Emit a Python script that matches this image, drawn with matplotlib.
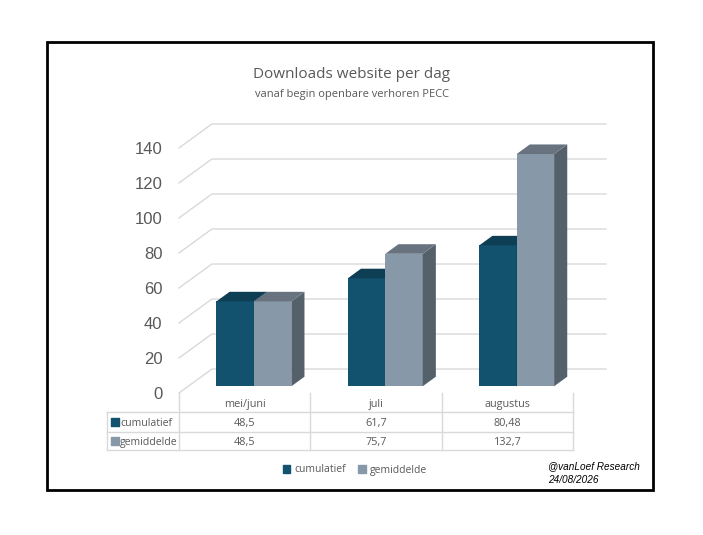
import matplotlib
matplotlib.use('Agg')
import matplotlib.pyplot as plt
from matplotlib.patches import Polygon, Rectangle, Patch
import numpy as np

# data
categories = ['mei/juni', 'juli', 'augustus']
series_names = ['cumulatief', 'gemiddelde']
cumulatief = [48.5, 61.7, 80.48]
gemiddelde = [48.5, 75.7, 132.7]
yticks = [0, 20, 40, 60, 80, 100, 120, 140]

W, H = 703, 535
plt.rcParams['font.family'] = ['Open Sans', 'DejaVu Sans']
GREY = '#595959'
GRID = '#D9D9D9'

fig = plt.figure(figsize=(W / 100, H / 100), dpi=100)


def px(x0, y0, x1, y1):
    return [x0 / W, 1 - y1 / H, (x1 - x0) / W, (y1 - y0) / H]


# depth of the back wall in data units
DX, DY = 0.25, 13.7
ax = fig.add_axes(px(179, 124, 606, 393))
ax.set_xlim(-0.5, 2.5 + DX)
ax.set_ylim(0, 140 + DY)
ax.patch.set_alpha(0)
for s in ax.spines.values():
    s.set_visible(False)
ax.set_xticks([])
ax.set_yticks(yticks)
ax.tick_params(axis='y', length=0, pad=12, labelsize=12, labelcolor=GREY)
for lab in ax.get_yticklabels():
    lab.set_fontfamily('Liberation Sans')

# back wall + side wall gridlines
for t in yticks:
    ax.plot([-0.5, -0.5 + DX, 2.5 + DX], [t, t + DY, t + DY],
            color=GRID, lw=1, zorder=1, clip_on=False)

# 3d bars
d0, d1 = 0.28, 0.68
dd = d1 - d0
w = 0.285
colors = [('#13526F', '#0E3E54', '#0B3347'),
          ('#8798A9', '#68737F', '#54616B')]
x = np.arange(len(categories))
for i, vals in enumerate([cumulatief, gemiddelde]):
    front, top, side = colors[i]
    xc = x + (i - 0.5) * w
    z = 2 + i
    ax.bar(xc + d0 * DX, vals, width=w, bottom=d0 * DY, color=front,
           zorder=z, clip_on=False)
    for xx, v in zip(xc, vals):
        xl = xx - w / 2 + d0 * DX
        xr = xx + w / 2 + d0 * DX
        yb = d0 * DY
        yt = v + d0 * DY
        ax.add_patch(Polygon([(xr, yb), (xr, yt), (xr + dd * DX, yt + dd * DY),
                              (xr + dd * DX, yb + dd * DY)],
                             closed=True, color=side, lw=0, zorder=z + 0.1, clip_on=False))
        ax.add_patch(Polygon([(xl, yt), (xr, yt), (xr + dd * DX, yt + dd * DY),
                              (xl + dd * DX, yt + dd * DY)],
                             closed=True, color=top, lw=0, zorder=z + 0.2, clip_on=False))

# data table under the axis
cat_px = 427 / (3 + DX)
upx = 269 / (140 + DY)


def xd(p):
    return -0.5 + (p - 179) / cat_px


def yd(p):
    return -(p - 393) / upx


tl = xd(107)
rows_y = [yd(412), yd(432), yd(450)]
lk = dict(color=GRID, lw=1, clip_on=False, zorder=1)
for b in [-0.5, 0.5, 1.5, 2.5]:
    ax.plot([b, b], [0, rows_y[-1]], **lk)
ax.plot([tl, tl], [rows_y[0], rows_y[-1]], **lk)
for ry in rows_y:
    ax.plot([tl, 2.5], [ry, ry], **lk)

for j, c in enumerate(categories):
    ax.text(j, yd(403), c, ha='center', va='center_baseline', fontsize=7.8, color=GREY,
            clip_on=False)
for i, (name, vals) in enumerate(zip(series_names, [cumulatief, gemiddelde])):
    yy = yd(422 + 19 * i)
    ax.scatter([xd(115)], [yy], marker='s', s=28, color=colors[i][0], clip_on=False, zorder=5)
    ax.text(xd(120), yy, name, ha='left', va='center_baseline', fontsize=7.6, color=GREY,
            clip_on=False)
    for j, v in enumerate(vals):
        ax.text(j, yy, str(v).replace('.', ','), ha='center', va='center_baseline',
                fontsize=7.8, color=GREY, clip_on=False)

# titles
fig.text(352 / W, 1 - 75 / H, 'Downloads website per dag', ha='center', va='center',
         fontsize=11, color=GREY)
fig.text(352 / W, 1 - 94 / H, 'vanaf begin openbare verhoren PECC', ha='center', va='center',
         fontsize=8, color=GREY)

# legend
handles = [Patch(color=colors[i][0]) for i in range(2)]
leg = fig.legend(handles, series_names, loc='center', bbox_to_anchor=(355 / W, 1 - 470 / H),
                 ncol=2, frameon=False, fontsize=7.5, handlelength=0.7, handleheight=0.7,
                 columnspacing=1.2, handletextpad=0.4)
for t in leg.get_texts():
    t.set_color(GREY)

# signature
fig.text(548 / W, 1 - 466 / H, '@vanLoef Research', fontsize=7.2, style='italic',
         va='center', family='Liberation Sans')
fig.text(548 / W, 1 - 480 / H, '24/08/2026', fontsize=7.2, style='italic',
         va='center', family='Liberation Sans')

# frame
fig.add_artist(Rectangle((47 / W, 1 - 490 / H), (653 - 47) / W, (490 - 42) / H,
                         fill=False, lw=2, ec='black', transform=fig.transFigure))

fig.savefig('out.png', dpi=100)
